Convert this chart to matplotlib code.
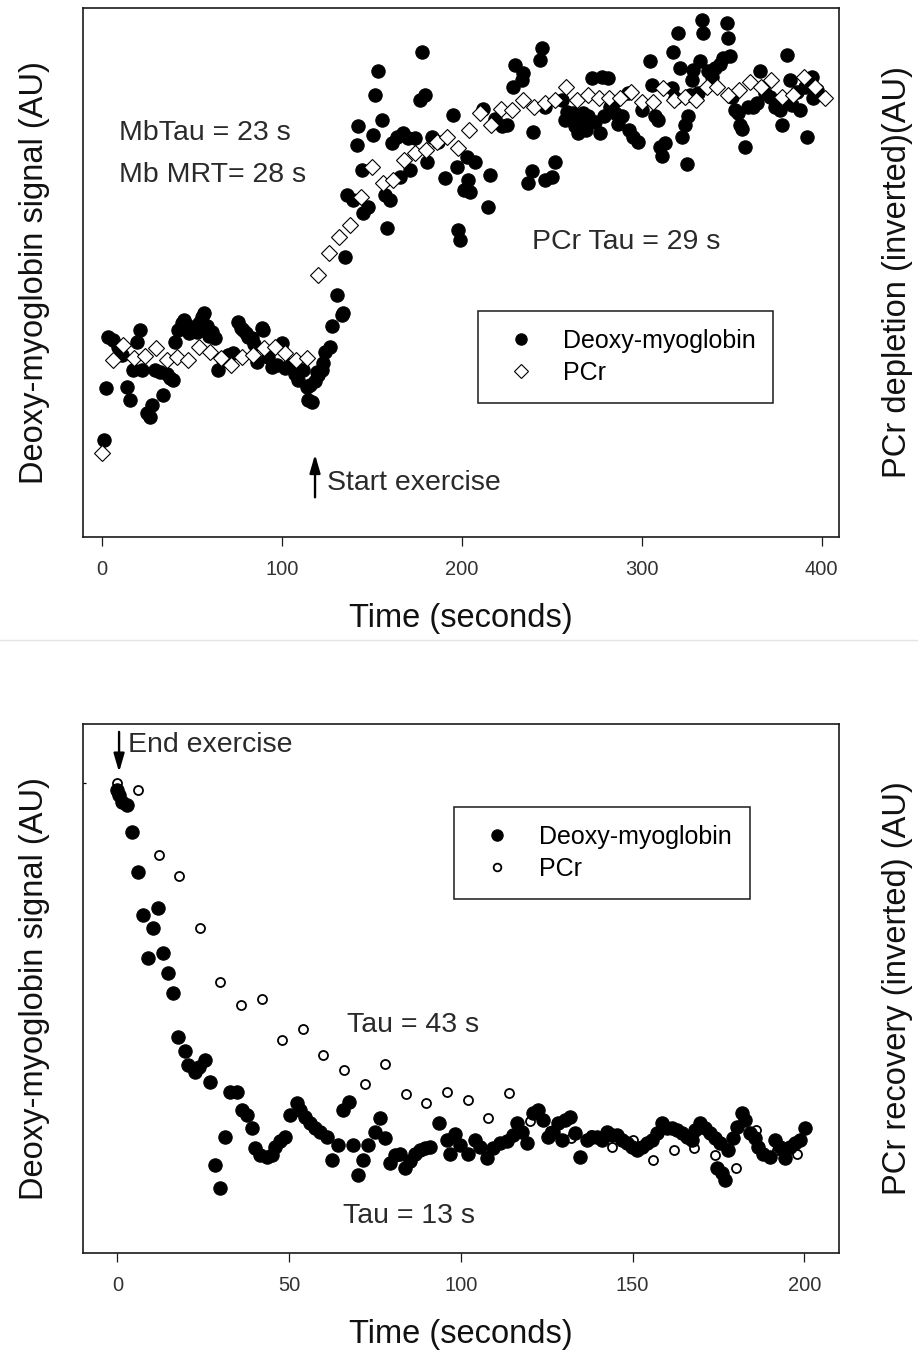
import matplotlib
matplotlib.use("Agg")
import matplotlib.pyplot as plt
from matplotlib.lines import Line2D

plt.rcParams['font.family'] = ['Liberation Sans', 'DejaVu Sans']

# ---------------- exercise onset (top panel) ----------------
ex_mb_t = [1.3, 2.4, 3.7, 6.5, 9.2, 11.1, 13.9, 15.7, 17.6, 19.4, 21.3, 22.2, 25.0, 26.8,
           27.8, 29.6, 32.4, 34.2, 36.1, 37.9, 39.8, 40.7, 42.6, 44.4, 45.5, 47.2, 48.5,
           50.0, 52.8, 53.9, 55.6, 57.0, 58.3, 59.5, 61.1, 62.9, 64.8, 67.6, 70.3, 73.1,
           75.9, 77.2, 78.7, 80.0, 81.4, 83.3, 84.5, 86.1, 88.9, 89.8, 92.6, 94.4, 97.2,
           100.0, 101.8, 104.6, 107.4, 109.2, 112.0, 113.9, 114.8, 115.7, 116.7, 118.5,
           119.4, 120.3, 122.2, 123.1, 124.0, 126.8, 127.8, 130.5, 133.3, 134.2, 135.2,
           136.1, 139.8, 141.7, 142.6, 144.5, 145.3, 148.1, 150.9, 151.9, 153.7, 155.6,
           157.4, 158.3, 160.2, 161.1, 163.9, 165.7, 167.6, 170.3, 171.0, 174.1, 176.8,
           177.8, 179.6, 180.6, 183.3, 187.0, 190.7, 195.3, 197.2, 198.1, 199.0, 201.0,
           202.8, 203.7, 204.5, 207.4, 212.0, 214.8, 215.5, 218.5, 222.2, 225.0, 228.7,
           229.6, 233.3, 234.2, 236.7, 239.2, 239.8, 243.5, 244.4, 246.1, 246.3, 250.3,
           251.8, 255.6, 257.3, 258.3, 259.5, 262.0, 262.9, 264.8, 266.0, 267.6, 269.0,
           270.4, 272.2, 274.0, 276.8, 277.8, 279.0, 281.5, 282.4, 284.0, 285.2, 287.0,
           288.9, 292.6, 293.0, 295.4, 298.1, 300.0, 304.6, 305.6, 307.4, 309.2, 310.2,
           311.0, 312.9, 316.7, 317.6, 318.5, 320.3, 321.3, 322.2, 323.8, 325.0, 325.9,
           326.8, 327.8, 328.7, 331.5, 332.4, 333.3, 334.2, 337.0, 338.9, 340.7, 343.5,
           345.3, 347.2, 347.8, 349.0, 350.0, 351.8, 353.7, 354.6, 355.6, 357.4, 359.2,
           362.0, 363.9, 365.7, 368.5, 371.3, 374.0, 376.8, 377.8, 379.6, 380.6, 382.4,
           383.3, 386.1, 388.0, 390.7, 391.7, 394.4, 395.3, 397.2]
ex_mb = [18.3, 28.1, 37.9, 37.2, 36.0, 34.4, 28.4, 25.9, 31.6, 36.9, 39.1, 31.6, 23.4, 22.7,
         25.0, 31.6, 31.2, 26.8, 30.9, 30.0, 29.7, 36.9, 39.1, 40.4, 41.0, 40.1, 38.5,
         39.1, 38.8, 40.5, 41.6, 42.3, 39.8, 38.0, 38.8, 37.6, 31.6, 33.5, 34.4, 34.7,
         40.7, 39.5, 39.1, 38.5, 37.9, 37.6, 36.5, 33.1, 39.5, 39.1, 34.1, 32.2, 32.5,
         36.6, 31.9, 32.5, 30.9, 29.7, 31.6, 28.4, 25.9, 28.7, 25.6, 29.4,
         31.2, 30.6, 31.6, 32.8, 35.0, 36.0, 39.8, 45.7, 42.0, 42.3, 53.0,
         64.7, 63.7, 74.1, 77.6, 69.4, 61.2, 62.4, 76.0, 83.6, 88.0, 78.8,
         64.7, 58.4, 63.7, 74.4, 75.7, 68.1, 76.3, 75.4, 69.4, 75.4, 82.6,
         91.7, 83.6, 70.9, 75.7, 74.7, 67.8, 79.8, 70.0, 58.0, 56.1, 65.6,
         71.9, 67.5, 65.3, 70.9, 81.0, 62.4, 68.4, 79.1, 77.6, 77.9, 85.1,
         89.2, 86.4, 87.7, 66.9, 69.2, 76.6, 90.2, 92.4, 67.5, 81.3, 68.1,
         70.9, 82.6, 78.8, 80.4, 79.0, 80.1, 77.6, 76.3, 78.5, 80.1, 77.0,
         79.5, 86.7, 78.5, 76.3, 87.0, 79.5, 86.7, 81.3, 82.0, 80.1, 78.0,
         79.5, 83.9, 76.9, 75.7, 74.7, 80.7, 89.9, 85.4, 79.5, 78.8, 73.8,
         72.0, 74.4, 84.8, 91.7, 82.9, 95.2, 88.6, 75.7, 77.9, 70.6, 79.5,
         83.6, 86.4, 88.3, 83.9, 89.9, 97.7, 95.2, 88.0, 87.0, 88.6, 89.5,
         90.5, 97.1, 94.3, 90.9, 83.2, 80.7, 80.1, 77.9, 77.2, 73.8, 81.3,
         81.3, 82.0, 88.0, 83.9, 83.2, 81.3, 80.7, 77.9, 82.6, 91.1, 86.4,
         81.7, 84.2, 80.7, 85.1, 75.7, 87.0, 82.9, 84.5]

ex_pcr_t = [0, 6, 12, 18, 24, 30, 36, 42, 48, 54, 60, 66, 72, 78, 84, 90, 96, 102, 108, 114,
            120, 126, 132, 138, 144, 150, 156, 162, 168, 174, 180, 186, 192, 198, 204, 210,
            216, 222, 228, 234, 240, 246, 252, 258, 264, 270, 276, 282, 288, 294, 300, 306,
            312, 318, 324, 330, 336, 342, 348, 354, 360, 366, 372, 378, 384, 390, 396, 402]
ex_pcr = [15.8, 33.5, 36.3, 33.8, 34.2, 35.7, 33.5, 34.1, 33.5, 36.0, 35.0, 33.8, 32.5, 34.1,
          34.4, 35.7, 36.0, 34.7, 33.5, 33.8,
          49.5, 53.7, 56.7, 59.0, 64.3, 70.0, 67.0, 67.4, 71.3, 72.5, 73.2, 74.7, 75.7, 73.5,
          76.9, 80.1, 77.9, 81.0, 80.7, 82.6, 81.3, 82.0, 82.6, 85.1, 82.6, 83.6, 82.9, 82.9,
          82.9, 84.2, 82.3, 82.3, 84.8, 82.6, 83.2, 82.6, 85.1, 85.1, 83.6, 84.5, 86.1, 85.1,
          86.4, 83.2, 83.6, 87.0, 85.1, 82.9]

# ---------------- recovery (bottom panel) ----------------
rec_mb_t = [0.0, 0.6, 1.4, 2.7, 4.2, 6.1, 7.6, 9.0, 10.5, 11.9, 13.4, 14.8, 16.3, 17.8, 19.7,
            20.7, 22.6, 23.9, 25.5, 27.0, 28.4, 29.9, 31.4, 32.8, 34.8, 36.2, 37.7, 39.1,
            40.1, 41.5, 43.5, 45.0, 45.9, 47.4, 48.8, 50.3, 52.2, 53.2, 54.6, 56.1, 57.6,
            59.0, 61.0, 62.4, 64.3, 65.8, 67.3, 68.7, 70.2, 71.6, 73.1, 75.0, 76.5, 77.9,
            79.4, 80.8, 82.3, 83.8, 85.2, 86.7, 88.1, 89.6, 91.0, 93.5, 95.9, 96.9, 98.3,
            99.8, 102.2, 104.1, 105.6, 107.5, 109.5, 111.4, 113.4, 115.3, 116.3, 117.7,
            119.2, 121.1, 122.6, 124.0, 125.5, 126.9, 128.4, 129.4, 130.3, 131.8, 133.2,
            134.7, 136.6, 138.1, 139.6, 141.0, 142.5, 143.9, 145.4, 146.8, 148.3, 149.8,
            151.2, 152.7, 154.1, 155.6, 157.0, 158.5, 160.0, 161.4, 162.9, 164.3, 165.8,
            167.2, 168.2, 169.6, 171.1, 172.5, 174.0, 174.5, 175.4, 176.0, 176.9, 177.9,
            179.3, 180.3, 181.8, 182.7, 184.2, 185.6, 186.6, 188.1, 190.0, 191.5, 193.0,
            194.4, 195.8, 197.3, 198.8, 200.2]
rec_mb = [87.5, 86.6, 85.3, 84.7, 79.6, 72.1, 63.9, 55.7, 61.4, 65.2, 56.7, 52.9, 49.1, 40.9,
          38.1, 35.5, 34.3, 35.2, 36.5, 32.4, 16.6, 12.2, 22.0, 30.5, 30.5, 27.0, 26.1, 23.6,
          19.8, 18.5, 18.2, 18.5, 20.1, 21.1, 22.0, 26.1, 28.3, 27.0, 25.8, 24.5, 23.6,
          22.9, 22.0, 17.6, 20.4, 27.0, 28.6, 20.4, 14.7, 17.6, 20.4, 22.9, 25.5, 21.7,
          17.0, 18.5, 18.8, 16.0, 17.3, 18.8, 19.5, 19.8, 20.1, 24.5, 21.4, 18.8, 22.5,
          20.4, 18.8, 21.4, 20.1, 17.9, 19.8, 20.8, 21.1, 22.3, 24.5, 22.9,
          20.8, 26.4, 27.0, 25.1, 22.0, 22.9, 24.5, 21.4, 25.1, 25.8, 22.7,
          18.2, 21.4, 22.0, 22.0, 21.4, 22.9, 22.3, 22.3, 21.4, 20.8, 20.1,
          19.5, 20.1, 20.8, 21.4, 22.7, 24.5, 23.6, 23.6, 23.3, 22.7, 22.0,
          21.4, 23.3, 24.5, 23.6, 22.7, 21.7, 16.0, 20.8, 15.1, 13.8, 19.5,
          21.7, 23.9, 26.4, 25.1, 22.7, 21.7, 20.1, 18.8, 18.2, 21.4, 20.1,
          17.9, 20.1, 20.8, 21.4, 23.6]

rec_pcr_t = [0, 6, 12, 18, 24, 30, 36, 42, 48, 54, 60, 66, 72, 78, 84, 90, 96, 102, 108, 114,
             120, 126, 132, 138, 144, 150, 156, 162, 168, 174, 180, 186, 192, 198]
rec_pcr = [88.8, 87.5, 75.2, 71.2, 61.4, 51.3, 46.9, 48.1, 40.3, 42.3, 37.4, 34.6, 31.9, 35.7,
           30.1, 28.3, 30.5, 28.9, 25.5, 30.2, 24.9, 23.0, 21.7, 22.3, 20.1, 21.4, 17.6, 19.5,
           19.8, 18.5, 16.0, 23.3, 19.5, 18.8]

top_xticks = [0, 100, 200, 300, 400]
bot_xticks = [0, 50, 100, 150, 200]

# ---------------- figure ----------------
W, H = 918, 1353
fig = plt.figure(figsize=(W / 100, H / 100), dpi=100)

def axes_box(left, top, right, bottom):
    return [left / W, 1 - bottom / H, (right - left) / W, (bottom - top) / H]

ax1 = fig.add_axes(axes_box(83, 8, 839, 537))
ax2 = fig.add_axes(axes_box(83, 724, 839, 1253))

label_kw = dict(fontsize=23.5, color='#111111')
note_kw = dict(fontsize=20.5, color='#2a2a2a')
dot_kw = dict(linestyle='none', marker='o', ms=9.6, mfc='black', mec='black', mew=0.8)
legend_kw = dict(loc='upper left', borderaxespad=0, fontsize=18, numpoints=1,
                 markerscale=0.85, borderpad=0.72, labelspacing=0.32, handlelength=2.0,
                 handletextpad=0.68, fancybox=False, framealpha=1, edgecolor='#1a1a1a')
arrow_kw = dict(arrowstyle='-|>,head_length=1.1,head_width=0.32', lw=1.7, color='black',
                shrinkA=0, shrinkB=0, mutation_scale=10)

for ax in (ax1, ax2):
    for s in ax.spines.values():
        s.set_linewidth(1.2)
        s.set_color('#1a1a1a')
    ax.tick_params(axis='x', direction='out', length=6.5, width=0.9, pad=10,
                   labelsize=14.5, labelcolor='#333333', color='#1a1a1a')
    ax.set_ylim(0, 100)

# top panel: exercise onset
ax1.plot(ex_mb_t, ex_mb, label='Deoxy-myoglobin', zorder=2, **dot_kw)
ax1.plot(ex_pcr_t, ex_pcr, linestyle='none', marker='D', ms=7.8, mfc='white', mec='black',
         mew=0.8, label='PCr', zorder=3)
ax1.set_xlim(-10.4, 409.6)
ax1.set_xticks(top_xticks)
ax1.set_yticks([])
ax1.set_xlabel('Time (seconds)', labelpad=17, **label_kw)
ax1.set_ylabel('Deoxy-myoglobin signal (AU)', **label_kw)
ax1.yaxis.set_label_coords(-0.044, 0.5)
ax1.text(1.0774, 0.5, 'PCr depletion (inverted)(AU)', rotation=90, ha='center', va='center',
         transform=ax1.transAxes, **label_kw)
ax1.text(9.8, 75.0, 'MbTau = 23 s', ha='left', va='baseline', **note_kw)
ax1.text(9.8, 67.1, 'Mb MRT= 28 s', ha='left', va='baseline', **note_kw)
ax1.text(238.8, 54.4, 'PCr Tau = 29 s', ha='left', va='baseline', **note_kw)
ax1.text(125.4, 8.9, 'Start exercise', ha='left', va='baseline', **note_kw)
ax1.annotate('', xy=(118.5, 15.6), xytext=(118.5, 7.5), arrowprops=arrow_kw)
leg1 = ax1.legend(bbox_to_anchor=(0.522, 0.428), **legend_kw)
leg1.get_frame().set_linewidth(1.1)

# bottom panel: recovery
ax2.plot(rec_pcr_t, rec_pcr, linestyle='none', marker='o', ms=6.5, mfc='white', mec='black',
         mew=1.3, label='PCr', zorder=2)
ax2.plot(rec_mb_t, rec_mb, label='Deoxy-myoglobin', zorder=3, **dot_kw)
ax2.set_xlim(-10.0, 210.1)
ax2.set_xticks(bot_xticks)
ax2.set_yticks([rec_pcr[0]])
ax2.tick_params(axis='y', direction='in', length=2.5, width=0.9, labelleft=False)
ax2.set_xlabel('Time (seconds)', labelpad=17, **label_kw)
ax2.set_ylabel('Deoxy-myoglobin signal (AU)', **label_kw)
ax2.yaxis.set_label_coords(-0.044, 0.5)
ax2.text(1.0774, 0.5, 'PCr recovery (inverted) (AU)', rotation=90, ha='center', va='center',
         transform=ax2.transAxes, **label_kw)
ax2.text(3.2, 94.8, 'End exercise', ha='left', va='baseline', **note_kw)
ax2.text(66.8, 41.8, 'Tau = 43 s', ha='left', va='baseline', **note_kw)
ax2.text(65.8, 5.7, 'Tau = 13 s', ha='left', va='baseline', **note_kw)
ax2.annotate('', xy=(0.5, 90.9), xytext=(0.5, 98.5), arrowprops=arrow_kw)
h, l = ax2.get_legend_handles_labels()
leg2 = ax2.legend(h[::-1], l[::-1], bbox_to_anchor=(0.4907, 0.8437), **legend_kw)
leg2.get_frame().set_linewidth(1.1)

# thin rule between the two panels
fig.add_artist(Line2D([0, 1], [1 - 640 / H, 1 - 640 / H], transform=fig.transFigure,
                      color='#e4e4e4', lw=1.0))

fig.savefig('out.png', dpi=100)
